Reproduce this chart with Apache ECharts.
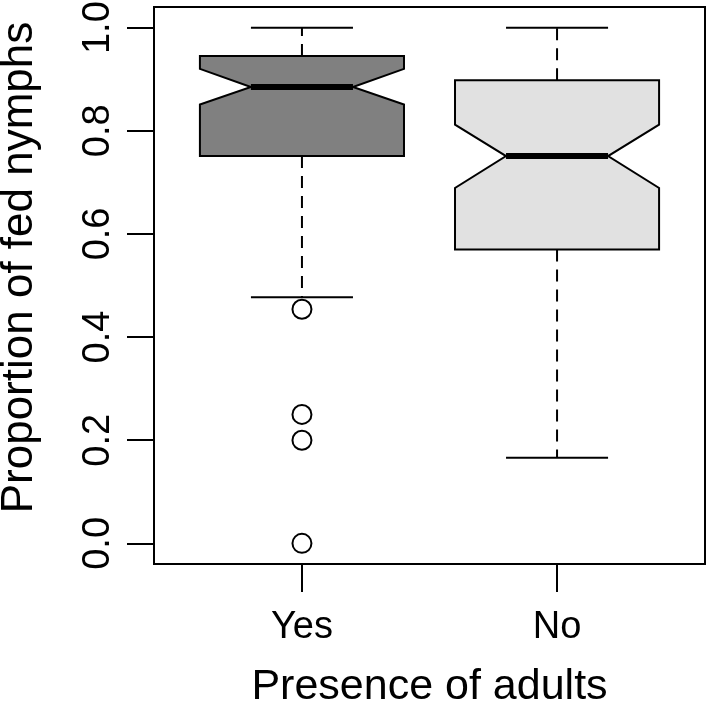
<!DOCTYPE html>
<html>
<head>
<meta charset="utf-8">
<script src="https://cdn.jsdelivr.net/npm/echarts@6/dist/echarts.min.js"></script>
<style>
html,body{margin:0;padding:0;background:#fff;}
#chart{width:709px;height:703px;}
</style>
</head>
<body>
<div id="chart"></div>
<script>
// ---- data ----
const categories = ['Yes', 'No'];
const q1 = [0.751, 0.570];
const q3 = [0.945, 0.898];
const medians = [0.885, 0.751];
const notchLow = [0.851, 0.689];
const notchHigh = [0.920, 0.812];
const whiskerLow = [0.477, 0.166];
const whiskerHigh = [1.0, 1.0];
const outliersYes = [0.454, 0.25, 0.20, 0.0];
const outliersNo = [];
const yTicks = [0, 0.2, 0.4, 0.6, 0.8, 1.0];
const xTicks = [1, 2];

// ---- styles ----
const boxFills = ['#808080', '#e1e1e1'];
const FONT = 'Liberation Sans, Arial, Helvetica, sans-serif';

const boxData = categories.map((c, i) => [i + 1, q1[i], notchLow[i], medians[i], notchHigh[i], q3[i], whiskerLow[i], whiskerHigh[i]]);
const outlierData = [];
outliersYes.forEach(v => outlierData.push([1, v]));
outliersNo.forEach(v => outlierData.push([2, v]));

function renderBox(params, api) {
  const x = api.value(0), lo = api.value(1), nLo = api.value(2), med = api.value(3),
        nHi = api.value(4), hi = api.value(5), wLo = api.value(6), wHi = api.value(7);
  const hw = 0.4, cap = 0.2;
  const pts = [[x - hw, lo], [x - hw, nLo], [x - hw / 2, med], [x - hw, nHi], [x - hw, hi],
               [x + hw, hi], [x + hw, nHi], [x + hw / 2, med], [x + hw, nLo], [x + hw, lo]].map(p => api.coord(p));
  const line = (a, b, style) => {
    const p1 = api.coord(a), p2 = api.coord(b);
    return { type: 'line', shape: { x1: p1[0], y1: p1[1], x2: p2[0], y2: p2[1] }, style: style };
  };
  const solid = { stroke: '#000', lineWidth: 2 };
  const dashed = { stroke: '#000', lineWidth: 2, lineDash: [12, 8] };
  return {
    type: 'group',
    children: [
      line([x, hi], [x, wHi], dashed),
      line([x, lo], [x, wLo], dashed),
      line([x - cap, wHi], [x + cap, wHi], solid),
      line([x - cap, wLo], [x + cap, wLo], solid),
      { type: 'polygon', shape: { points: pts }, style: { fill: boxFills[params.dataIndex], stroke: '#000', lineWidth: 2, lineJoin: 'miter' } },
      line([x - hw / 2, med], [x + hw / 2, med], { stroke: '#000', lineWidth: 6, lineCap: 'butt' })
    ]
  };
}

const chart = echarts.init(document.getElementById('chart'), null, { renderer: 'canvas' });
chart.setOption({
  backgroundColor: '#fff',
  animation: false,
  grid: { left: 154, top: 7, width: 551, height: 557, show: true, borderColor: '#000', borderWidth: 2,
          backgroundColor: 'transparent', containLabel: false, outerBoundsMode: 'none' },
  xAxis: {
    type: 'value', min: 0.42, max: 2.58,
    axisLine: { show: false, onZero: false },
    splitLine: { show: false },
    axisTick: { show: true, length: 28, lineStyle: { color: '#000', width: 2 }, customValues: xTicks },
    axisLabel: { customValues: xTicks, formatter: v => categories[Math.round(v) - 1], fontSize: 38, color: '#000', fontFamily: FONT, margin: 45 },
    name: 'Presence of adults', nameLocation: 'middle', nameGap: 102,
    nameTextStyle: { fontSize: 43, color: '#000', fontFamily: FONT }
  },
  yAxis: {
    type: 'value', min: -0.04, max: 1.04,
    axisLine: { show: false, onZero: false },
    splitLine: { show: false },
    axisTick: { show: true, length: 27, lineStyle: { color: '#000', width: 2 }, customValues: yTicks },
    axisLabel: { customValues: yTicks, formatter: v => v.toFixed(1), rotate: 90, fontSize: 38, color: '#000', fontFamily: FONT, margin: 36 },
    name: 'Proportion of fed nymphs', nameLocation: 'middle', nameGap: 112, nameRotate: 90,
    nameTextStyle: { fontSize: 44, color: '#000', fontFamily: FONT, padding: [0, 0, 0, 36] }
  },
  series: [
    { type: 'custom', renderItem: renderBox, data: boxData, encode: { x: 0, y: [1, 2, 3, 4, 5, 6, 7] }, z: 3 },
    { type: 'scatter', data: outlierData, symbol: 'circle', symbolSize: 19,
      itemStyle: { color: 'rgba(0,0,0,0)', borderColor: '#000', borderWidth: 2, opacity: 1 }, z: 4 }
  ]
});
</script>
</body>
</html>
